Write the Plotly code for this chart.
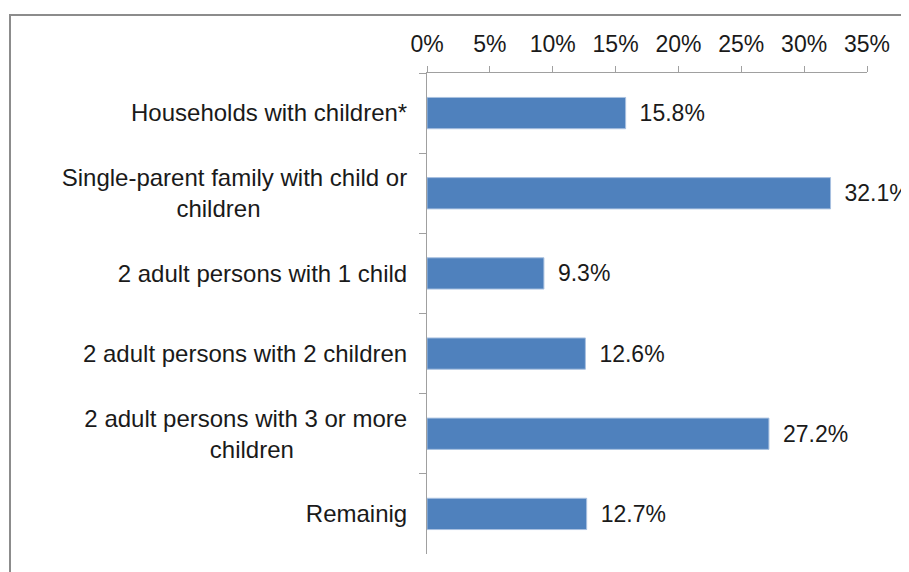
import plotly.graph_objects as go

NB = "\u00a0"
categories = [
    "Households with children*",
    "Single-parent family with child or<br>children" + NB * 22,
    "2 adult persons with 1 child",
    "2 adult persons with 2 children",
    "2 adult persons with 3 or more<br>children" + NB * 17,
    "Remainig",
]
values = [15.8, 32.1, 9.3, 12.6, 27.2, 12.7]
tick_vals = [0, 5, 10, 15, 20, 25, 30, 35]
tick_text = ["0%", "5%", "10%", "15%", "20%", "25%", "30%", "35%"]

# page body has an 8px margin, so figure coords = screen coords - 8
OFF = 8
W, H = 909, 572
L = 427 - OFF
T = 73 - OFF
R = W - (867 - OFF)
B = H - (554 - OFF)
pw, ph = W - L - R, H - T - B

fig = go.Figure(go.Bar(
    x=values, y=categories, orientation="h",
    marker=dict(color="#4F81BD", line=dict(color="#A9C1E0", width=1)),
    text=[NB + "\u2009" + f"{v:.1f}%" for v in values], textposition="outside",
    textfont=dict(family="Liberation Sans, Arial", size=23, color="#1a1a1a"),
    cliponaxis=False, width=0.39,
))

def px_x(p):
    return (p - OFF - L) / pw

def px_y(p):
    return (H - B - (p - OFF)) / ph

fig.update_layout(
    width=W, height=H,
    margin=dict(l=L, r=R, t=T, b=B, autoexpand=False),
    paper_bgcolor="white", plot_bgcolor="white",
    font=dict(family="Liberation Sans, Arial", size=23, color="#1a1a1a"),
    showlegend=False,
    xaxis=dict(
        side="top", range=[0, 35], tickvals=tick_vals, ticktext=tick_text,
        showgrid=False, zeroline=False, showline=True, linecolor="#A0A0A0", linewidth=1,
        ticks="outside", ticklen=6, tickcolor="#A0A0A0", ticklabelstandoff=5,
        tickfont=dict(size=23),
    ),
    yaxis=dict(
        autorange="reversed", showgrid=False, zeroline=False,
        showline=True, linecolor="#A0A0A0", linewidth=1,
        ticks="outside", ticklen=7, tickcolor="#A0A0A0", tickson="boundaries",
        ticklabelstandoff=14, tickfont=dict(size=24),
    ),
    shapes=[dict(
        type="rect", xref="paper", yref="paper",
        x0=px_x(10), x1=px_x(1000), y0=px_y(700), y1=px_y(15),
        line=dict(color="#8C8C8C", width=2), layer="below",
    )],
)

fig.write_html("out.html")
